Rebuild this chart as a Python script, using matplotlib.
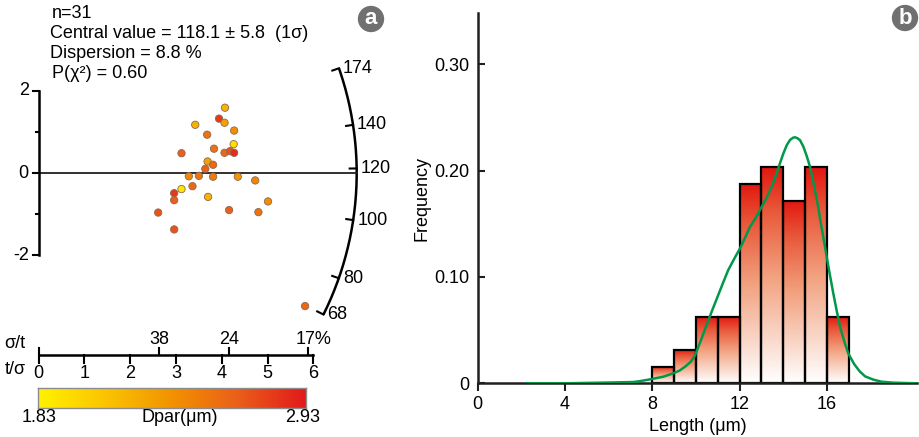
import numpy as np
import matplotlib
matplotlib.use("Agg")
import matplotlib.pyplot as plt
from matplotlib.colors import LinearSegmentedColormap, Normalize

plt.rcParams['font.family'] = ['Liberation Sans', 'DejaVu Sans']

# ---- radial plot data (panel a) ----
t_sigma = [4.07, 3.94, 4.06, 3.42, 4.27, 3.68, 4.26, 3.83, 3.12, 4.06, 4.18,
           4.27, 3.69, 3.81, 3.64, 3.28, 3.50, 3.81, 4.35, 4.73, 3.36, 3.12,
           2.96, 2.96, 3.70, 5.01, 2.61, 4.16, 4.80, 2.96, 5.82]
z_std = [1.585, 1.32, 1.22, 1.17, 1.03, 0.93, 0.70, 0.59, 0.48, 0.49, 0.53,
         0.49, 0.28, 0.20, 0.10, -0.08, -0.07, -0.09, -0.09, -0.18, -0.32, -0.39,
         -0.49, -0.66, -0.58, -0.69, -0.96, -0.90, -0.95, -1.37, -3.23]
dpar = [2.20, 2.80, 2.30, 2.20, 2.40, 2.55, 1.95, 2.55, 2.65, 2.60, 2.70,
        2.85, 2.30, 2.60, 2.65, 2.45, 2.55, 2.50, 2.35, 2.45, 2.60, 1.90,
        2.80, 2.65, 2.20, 2.40, 2.70, 2.65, 2.55, 2.70, 2.60]
central_age = 118.1
arc_ages = [68, 80, 100, 120, 140, 174]
sigma_t_ticks = [38, 24, 17]
tsig_ticks = [0, 1, 2, 3, 4, 5, 6]
dpar_min, dpar_max = 1.83, 2.93

# ---- track length data (panel b) ----
bin_edges = [8, 9, 10, 11, 12, 13, 14, 15, 16, 17]
counts = [1, 2, 4, 4, 12, 13, 11, 13, 4]
n_tracks = 64
curve_x = [2.24, 4.0, 6.2, 7.13, 7.43, 7.97, 8.5, 8.96, 9.25, 9.5, 9.75, 9.95,
           10.2, 10.49, 10.75, 11.02, 11.25, 11.48, 11.75, 12.02, 12.25, 12.47,
           12.75, 13.01, 13.25, 13.47, 13.65, 13.85, 14.0, 14.16, 14.31, 14.45,
           14.54, 14.65, 14.77, 14.92, 15.07, 15.22, 15.4, 15.6, 15.75, 15.91,
           16.1, 16.29, 16.45, 16.6, 16.8, 16.98, 17.25, 17.51, 17.75, 18.12,
           18.5, 19.04, 20.1]
curve_y = [0.0, 0.0, 0.0008, 0.0012, 0.002, 0.004, 0.0062, 0.0094, 0.012, 0.0156,
           0.020, 0.026, 0.039, 0.055, 0.069, 0.083, 0.095, 0.1066, 0.117, 0.127,
           0.137, 0.147, 0.156, 0.166, 0.175, 0.185, 0.195, 0.207, 0.216, 0.224,
           0.2289, 0.2310, 0.2314, 0.2305, 0.2286, 0.2226, 0.214, 0.204, 0.187,
           0.166, 0.147, 0.1285, 0.106, 0.0847, 0.068, 0.0533, 0.039, 0.028,
           0.018, 0.011, 0.0065, 0.0035, 0.0015, 0.0006, 0.0]

W, H = 920, 437
fig = plt.figure(figsize=(W / 100, H / 100), dpi=100)

def ftext(px, py, s, **kw):
    return fig.text(px / W, 1 - py / H, s, **kw)

dark = '#231F20'
fs = 13

# ---------------- panel a ----------------
X0, XS = 38.7, 45.77     # pixel of t/sigma = 0, pixels per unit
Y0, YS = 173.0, 41.2     # pixel of z = 0, pixels per unit
axL = fig.add_axes([0, 0, 420 / W, 1])
axL.set_xlim(-X0 / XS, (420 - X0) / XS)
axL.set_ylim((Y0 - H) / YS, Y0 / YS)
axL.axis('off')

R = 318.0  # arc radius in pixels

def arc_phi(age):
    s = np.log(age / central_age)
    return np.arctan2(s * YS, XS)

def arc_xy(phi, r):
    return r * np.cos(phi) / XS, r * np.sin(phi) / YS

# arc
phis = np.linspace(arc_phi(min(arc_ages)), arc_phi(max(arc_ages)), 200)
ax_, ay_ = arc_xy(phis, R)
axL.plot(ax_, ay_, color='black', lw=1.8, solid_capstyle='butt')
for age in arc_ages:
    p = arc_phi(age)
    xa, ya = arc_xy(p, R)
    xb, yb = arc_xy(p, R - 7)
    axL.plot([xa, xb], [ya, yb], color='black', lw=1.5)
    axL.text(xa + 4 / XS, ya, str(age), ha='left', va='center', fontsize=fs)

# central value line
xc, yc = arc_xy(arc_phi(central_age), R)
axL.plot([0, xc], [0, yc], color=dark, lw=1.3)

# dpar colour map
dpar_cmap = LinearSegmentedColormap.from_list(
    'dpar', ['#FFF200', '#FBC400', '#F29200', '#EA5E1A', '#E3191B'])
norm = Normalize(dpar_min, dpar_max)
axL.scatter(t_sigma, z_std, c=dpar, cmap=dpar_cmap, norm=norm, s=28,
            edgecolors='#8A6A50', linewidths=0.6, zorder=3)

# vertical standardised axis
axL.plot([0, 0], [-2, 2], color='black', lw=1.8)
for yv in [-2, -1, 0, 1, 2]:
    L = 6 if yv % 2 == 0 else 3
    axL.plot([0, -L / XS], [yv, yv], color='black', lw=1.5)
for yv in [-2, 0, 2]:
    axL.text(-10 / XS, yv, str(yv), ha='right', va='center', fontsize=fs)

# precision axis
ya_ax = (Y0 - 355) / YS
axL.plot([0, 6], [ya_ax, ya_ax], color='black', lw=1.8)
for t in tsig_ticks:
    axL.plot([t, t], [ya_ax, ya_ax - 8 / YS], color='black', lw=1.5)
    axL.text(t, ya_ax - 18 / YS, str(t), ha='center', va='center', fontsize=fs)
axL.plot([0, 0], [ya_ax, ya_ax + 7 / YS], color='black', lw=1.5)
for i, pct in enumerate(sigma_t_ticks):
    xt = 100 / pct
    axL.plot([xt, xt], [ya_ax, ya_ax + 7 / YS], color='black', lw=1.5)
    lab = f'{pct}%' if i == len(sigma_t_ticks) - 1 else str(pct)
    axL.text(xt + (6 / XS if lab.endswith('%') else 0), ya_ax + 15 / YS, lab,
             ha='center', va='center', fontsize=fs)
ftext(15, 343, 'σ/t', ha='center', va='center', fontsize=fs)
ftext(15, 370, 't/σ', ha='center', va='center', fontsize=fs)

# summary text
ftext(52, 13, 'n=31', ha='left', va='center', fontsize=fs)
ftext(50, 33, 'Central value = 118.1 ± 5.8  (1σ)', ha='left', va='center', fontsize=fs)
ftext(50, 53, 'Dispersion = 8.8 %', ha='left', va='center', fontsize=fs)
ftext(52, 73, 'P(χ²) = 0.60', ha='left', va='center', fontsize=fs)

# colour bar
axC = fig.add_axes([38.3 / W, 1 - 407.7 / H, (306 - 38.3) / W, 19.4 / H])
axC.imshow(np.linspace(dpar_min, dpar_max, 256)[None, :], cmap=dpar_cmap,
           norm=norm, aspect='auto', extent=[dpar_min, dpar_max, 0, 1])
axC.set_xticks([])
axC.set_yticks([])
for sp in axC.spines.values():
    sp.set_color('#8C8C8C')
    sp.set_linewidth(1.0)
ftext(38.8, 418, f'{dpar_min:.2f}', ha='center', va='center', fontsize=fs)
ftext(303, 418, f'{dpar_max:.2f}', ha='center', va='center', fontsize=fs)
ftext(180, 418, 'Dpar(μm)', ha='center', va='center', fontsize=fs)

# ---------------- panel b ----------------
axR = fig.add_axes([477.7 / W, 1 - 383.3 / H, (917.3 - 477.7) / W, (383.3 - 13.3) / H])
freq = np.array(counts) / n_tracks
bar_cmap = LinearSegmentedColormap.from_list(
    'bar', [(0, '#FFFFFF'), (0.5, '#F2A07E'), (0.8, '#E8583A'), (1, '#E2170F')])
grad = np.linspace(0, 1, 256)[:, None]
for left, right, h in zip(bin_edges[:-1], bin_edges[1:], freq):
    axR.imshow(grad, cmap=bar_cmap, origin='lower', aspect='auto',
               extent=[left, right, 0, h], zorder=1)
axR.bar(bin_edges[:-1], freq, width=1, align='edge', fill=False,
        edgecolor='black', linewidth=1.6, zorder=2)
axR.plot(curve_x, curve_y, color='#00984A', lw=1.8, zorder=3,
         solid_joinstyle='round')

axR.set_xlim(0, 20.14)
axR.set_ylim(0, 0.348)
for side in ['top', 'right']:
    axR.spines[side].set_visible(False)
for side in ['left', 'bottom']:
    axR.spines[side].set_color(dark)
    axR.spines[side].set_linewidth(1.8)
axR.set_xticks([0, 4, 8, 12, 16])
axR.set_xticklabels(['0', '4', '8', '12', '16'])
axR.set_yticks([0, 0.1, 0.2, 0.3])
axR.set_yticklabels(['0', '0.10', '0.20', '0.30'])
axR.tick_params(axis='x', direction='out', length=6, width=1.5, color=dark,
                labelsize=fs, pad=3)
axR.tick_params(axis='y', direction='in', length=5, width=1.5, color=dark,
                labelsize=fs, pad=6)
axR.set_xlabel('Length (μm)', fontsize=fs, labelpad=4)
axR.set_ylabel('Frequency', fontsize=fs, labelpad=3)

# panel letters
for px, py, letter in [(371, 19, 'a'), (905, 18, 'b')]:
    ftext(px, py, letter, ha='center', va='center', fontsize=16,
          fontweight='bold', color='white',
          bbox=dict(boxstyle='circle,pad=0.12', fc='#707070', ec='none'))

fig.savefig('out.png', dpi=100)
